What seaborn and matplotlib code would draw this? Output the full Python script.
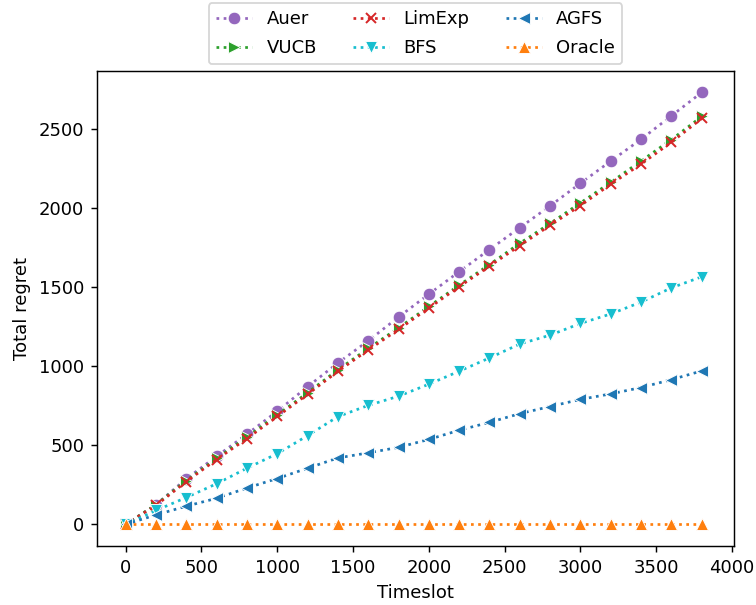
import numpy as np
import pandas as pd
import matplotlib
matplotlib.use('Agg')
import matplotlib.pyplot as plt
import seaborn as sns

# 时隙
timeslot = list(range(0, 3801, 200))

auer = [0, 125, 288, 430, 570, 715, 870, 1020, 1160, 1310, 1455, 1597, 1737, 1875, 2013, 2156, 2296, 2434, 2582, 2730]
vucb = [0, 125, 277, 417, 552, 692, 832, 977, 1112, 1242, 1377, 1512, 1642, 1777, 1902, 2032, 2162, 2297, 2432, 2578]
limexp = [0, 120, 270, 410, 542, 682, 822, 967, 1102, 1232, 1367, 1502, 1632, 1762, 1890, 2015, 2150, 2277, 2415, 2565]
bfs = [0, 88, 170, 257, 355, 447, 561, 681, 752, 810, 886, 968, 1052, 1140, 1196, 1270, 1330, 1405, 1495, 1565]
agfs = [0, 60, 115, 165, 230, 290, 355, 420, 452, 487, 537, 595, 645, 700, 745, 790, 825, 865, 915, 970]
oracle = [0] * 20

names = ['Auer', 'VUCB', 'LimExp', 'BFS', 'AGFS', 'Oracle']
series = [auer, vucb, limexp, bfs, agfs, oracle]
colors = ['tab:purple', 'tab:green', 'tab:red', 'tab:cyan', 'tab:blue', 'tab:orange']
markers = ['o', '>', 'x', 'v', '<', '^']

fig, ax = plt.subplots(figsize=(756 / 130, 605 / 130), dpi=130)

for name, vals, c, m in zip(names, series, colors, markers):
    if m == 'x':
        sns.lineplot(x=timeslot, y=vals, ax=ax, color=c, marker=m, linestyle=':',
                     markersize=6, label=name, markeredgecolor=c, markeredgewidth=1.1)
    else:
        sns.lineplot(x=timeslot, y=vals, ax=ax, color=c, marker=m, linestyle=':',
                     markersize=7, label=name, markeredgecolor='white', markeredgewidth=0.5)

ax.set_xlim(-190, 4013)
ax.set_xlabel('Timeslot')
ax.set_ylabel('Total regret')
ax.legend(loc='lower center', bbox_to_anchor=(0.5, 1.0), ncol=3,
          borderaxespad=0.35, labelspacing=0.6)

plt.subplots_adjust(left=0.128, right=0.971, top=0.883, bottom=0.0975)
plt.savefig('out.png', dpi=130)
